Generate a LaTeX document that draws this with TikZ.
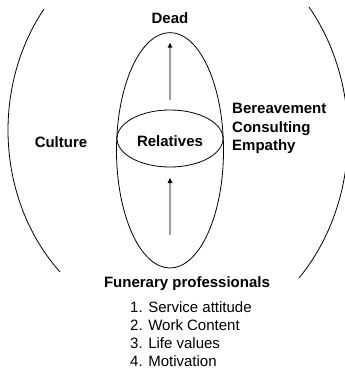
\documentclass[tikz,border=0pt]{standalone}
\usepackage{fontspec}
\setmainfont{Liberation Sans}
\usetikzlibrary{arrows.meta,shapes.geometric}
\begin{document}
\begin{tikzpicture}[x=1pt,y=-1pt,
  lbl/.style={font=\fontsize{15}{18.7}\selectfont\bfseries, inner sep=0pt},
  item/.style={font=\fontsize{15}{18.1}\selectfont, inner sep=0pt},
  curve/.style={line width=0.8pt},
  oval/.style={ellipse, draw, line width=0.8pt, inner sep=0pt},
  flow/.style={draw=black!38, line width=1.2pt, -{Triangle[color=black,length=5pt,width=4.5pt]}}]
\useasboundingbox (0,0) rectangle (345,372);
% outer arcs
\draw[curve] plot[domain=133.8:218.1, samples=90, smooth] ({177+169*cos(\x)}, {130.2+196.4*sin(\x)});
\draw[curve] plot[domain=-39.5:44.5, samples=90, smooth] ({177+171*cos(\x)}, {135.9+202.7*sin(\x)});
% inner tall ellipse
\node[oval, minimum width=107pt, minimum height=235.4pt] (inner) at (170,150.3) {};
% relatives ellipse
\node[oval, minimum width=106pt, minimum height=57pt, font=\fontsize{15}{18}\selectfont\bfseries, text height=16pt] (rel) at (170,138.5) {Relatives};
% arrows
\coordinate (ua) at (170,100);
\coordinate (ub) at (170,42.7);
\coordinate (la) at (170,235);
\coordinate (lb) at (170,178);
\draw[flow] (ua) -- (ub);
\draw[flow] (la) -- (lb);
% labels
\node[lbl, anchor=base] (dead) at (170,23.4) {Dead};
\node[lbl, anchor=base] (culture) at (61,147.3) {Culture};
\node[lbl, anchor=base west, align=left] (bce) at (232,150.7) {Bereavement\\Consulting\\Empathy};
\node[lbl, anchor=base] (fun) at (187,287.3) {Funerary professionals};
\node[item, anchor=base west, align=left] (list) at (130,366.7) {1. Service attitude\\2. Work Content\\3. Life values\\4. Motivation};
\end{tikzpicture}
\end{document}
